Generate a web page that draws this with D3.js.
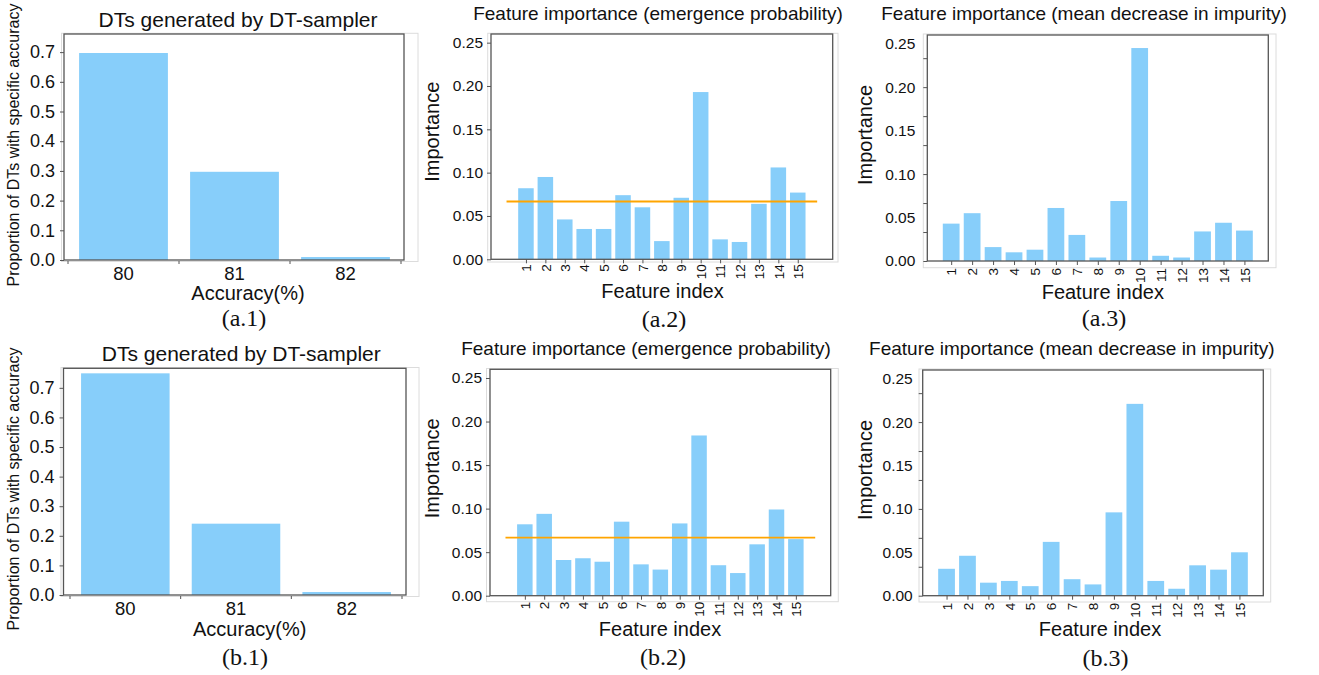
<!DOCTYPE html>
<html><head><meta charset="utf-8">
<script src="https://cdn.jsdelivr.net/npm/d3@7"></script>
<style>
body{margin:0;background:#fff;}
svg text{font-family:"Liberation Sans",Arial,Helvetica,sans-serif;fill:#111;}
</style></head><body>
<svg id="chart" width="1319" height="675"></svg>
<script>
// ---------------- data ----------------
const accCategories = ["80", "81", "82"];
const accProportionA = [0.697, 0.297, 0.010];
const accProportionB = [0.749, 0.241, 0.010];
const accTicks = [0, 0.1, 0.2, 0.3, 0.4, 0.5, 0.6, 0.7];

const featureIndex = [1, 2, 3, 4, 5, 6, 7, 8, 9, 10, 11, 12, 13, 14, 15];
const emergenceA = [0.082, 0.095, 0.046, 0.035, 0.035, 0.074, 0.060, 0.021, 0.071, 0.193, 0.023, 0.020, 0.064, 0.106, 0.077];
const impurityA  = [0.043, 0.055, 0.016, 0.010, 0.013, 0.061, 0.030, 0.004, 0.069, 0.245, 0.006, 0.004, 0.034, 0.044, 0.035];
const emergenceB = [0.082, 0.094, 0.041, 0.043, 0.039, 0.085, 0.036, 0.030, 0.083, 0.184, 0.035, 0.026, 0.059, 0.099, 0.065];
const impurityB  = [0.031, 0.046, 0.015, 0.017, 0.011, 0.062, 0.019, 0.013, 0.096, 0.221, 0.017, 0.008, 0.035, 0.030, 0.050];
const meanImportance = 0.0667;          // uniform level 1/15
const meanLineSpan = [0, 16];
const featTicks = [0, 0.05, 0.10, 0.15, 0.20, 0.25];
const impurityMarkTicks = [0, 0.05, 0.10, 0.15, 0.20, 0.25, 0.30, 0.35];

const titleAcc = "DTs generated by DT-sampler";
const titleEmergence = "Feature importance (emergence probability)";
const titleImpurity = "Feature importance (mean decrease in impurity)";
const yLabelAcc = "Proportion of DTs with specific accuracy";
const xLabelAcc = "Accuracy(%)";
const yLabelFeat = "Importance";
const xLabelFeat = "Feature index";

// ---------------- style ----------------
const BAR = "#87CEFA", SPINE = "#555", LIGHT = "#dcdcdc", ORANGE = "#FFA500";
const svg = d3.select("#chart");

function frame(g, p) {
  const [l, t, r, b] = p.light;
  g.append("rect").attr("x", l).attr("y", t).attr("width", r - l).attr("height", b - t)
    .attr("fill", "none").attr("stroke", LIGHT).attr("stroke-width", 1);
}
function spines(g, p) {
  g.append("rect").attr("x", p.left).attr("y", p.top)
    .attr("width", p.right - p.left).attr("height", p.bottom - p.top)
    .attr("fill", "none").attr("stroke", SPINE).attr("stroke-width", 1.3);
}
function text(g, s, x, y, size, opts = {}) {
  const t = g.append("text").attr("x", 0).attr("y", 0).attr("dy", "0.35em")
    .attr("text-anchor", "middle").style("font-size", size + "px").text(s)
    .attr("transform", `translate(${x},${y})` + (opts.rotate ? ` rotate(${opts.rotate})` : ""));
  if (opts.serif) t.style("font-family", '"Liberation Serif","Times New Roman",serif');
  return t;
}

function accPanel(p, values) {
  const g = svg.append("g");
  frame(g, p);
  const x = d3.scaleBand().domain(accCategories).range([p.bandL, p.bandR]).paddingInner(0.2).paddingOuter(0.1);
  const y = d3.scaleLinear().domain([0, p.yTop]).range([p.bottom, p.top]);
  const data = accCategories.map((c, i) => ({c, v: values[i]}));
  g.selectAll("rect.bar").data(data).join("rect").attr("class", "bar")
    .attr("x", d => x(d.c)).attr("width", x.bandwidth())
    .attr("y", d => y(d.v)).attr("height", d => y(0) - y(d.v)).attr("fill", BAR);
  spines(g, p);
  const ya = g.append("g").attr("transform", `translate(${p.left},0)`)
    .call(d3.axisLeft(y).tickValues(accTicks).tickFormat(d3.format(".1f")).tickSize(4).tickPadding(5));
  ya.select(".domain").remove();
  ya.selectAll(".tick line").attr("stroke", SPINE);
  ya.selectAll(".tick text").style("font-size", "18px").attr("fill", "#111");
  const bounds = accCategories.map(c => x(c) - x.step() * x.paddingOuter());
  bounds.push(p.bandR);
  g.selectAll("line.xt").data(bounds).join("line").attr("class", "xt")
    .attr("x1", d => d).attr("x2", d => d).attr("y1", p.bottom + 1).attr("y2", p.bottom + 4)
    .attr("stroke", SPINE).attr("stroke-width", 1);
  g.selectAll("text.xl").data(accCategories).join("text").attr("class", "xl")
    .attr("x", d => x(d) + x.bandwidth() / 2).attr("y", p.bottom + p.xTickDy).attr("dy", "0.35em")
    .attr("text-anchor", "middle").style("font-size", "18.5px").text(d => d);
  text(g, titleAcc, p.title[0], p.title[1], 21);
  text(g, xLabelAcc, p.xlab[0], p.xlab[1], 20);
  text(g, yLabelAcc, p.ylab[0], p.ylab[1], 16, {rotate: -90});
  text(g, p.cap, p.capPos[0], p.capPos[1], 24, {serif: true});
}

function featPanel(p, values, title, opts) {
  const g = svg.append("g");
  frame(g, p);
  const x = d3.scaleLinear().domain(p.xDom).range([p.left, p.right]);
  const y = d3.scaleLinear().domain([0, p.yTop]).range([p.bottom, p.top]);
  const bw = x(0.8) - x(0);
  const data = featureIndex.map((f, i) => ({f, v: values[i]}));
  g.selectAll("rect.bar").data(data).join("rect").attr("class", "bar")
    .attr("x", d => x(d.f) - bw / 2).attr("width", bw)
    .attr("y", d => y(d.v)).attr("height", d => y(0) - y(d.v)).attr("fill", BAR);
  if (opts.mean) {
    g.append("line").attr("x1", x(meanLineSpan[0])).attr("x2", x(meanLineSpan[1]))
      .attr("y1", y(meanImportance)).attr("y2", y(meanImportance))
      .attr("stroke", ORANGE).attr("stroke-width", 1.8);
  }
  spines(g, p);
  if (opts.marks) {
    const ym = d3.scaleLinear().domain([0, p.yTop * 1.5]).range([p.bottom, p.top]);
    const ma = g.append("g").attr("transform", `translate(${p.left},0)`)
      .call(d3.axisLeft(ym).tickValues(impurityMarkTicks).tickSize(4).tickFormat(""));
    ma.select(".domain").remove();
    ma.selectAll(".tick line").attr("stroke", SPINE);
    const la = g.append("g").attr("transform", `translate(${p.left},0)`)
      .call(d3.axisLeft(y).tickValues(featTicks).tickFormat(d3.format(".2f")).tickSize(0).tickPadding(p.labPad));
    la.select(".domain").remove();
    la.selectAll(".tick text").style("font-size", "15.5px").attr("fill", "#111");
  } else {
    const ya = g.append("g").attr("transform", `translate(${p.left},0)`)
      .call(d3.axisLeft(y).tickValues(featTicks).tickFormat(d3.format(".2f")).tickSize(4).tickPadding(4));
    ya.select(".domain").remove();
    ya.selectAll(".tick line").attr("stroke", SPINE);
    ya.selectAll(".tick text").style("font-size", "15.5px").attr("fill", "#111");
  }
  const xa = g.append("g").attr("transform", `translate(0,${p.bottom})`)
    .call(d3.axisBottom(x).tickValues(featureIndex).tickFormat(d3.format("d")).tickSize(4).tickPadding(4));
  xa.select(".domain").remove();
  xa.selectAll(".tick line").attr("stroke", SPINE);
  xa.selectAll(".tick text").style("font-size", "13.5px").attr("fill", "#111")
    .attr("text-anchor", "end").attr("transform", "rotate(-90)")
    .attr("x", -p.xTickPad).attr("y", 0).attr("dy", "0.35em");
  text(g, title, p.title[0], p.title[1], 19);
  text(g, xLabelFeat, p.xlab[0], p.xlab[1], 20);
  text(g, yLabelFeat, p.ylab[0], p.ylab[1], 20, {rotate: -90});
  text(g, p.cap, p.capPos[0], p.capPos[1], 24, {serif: true});
}

accPanel({left: 64, top: 34, right: 404, bottom: 260, bandL: 68, bandR: 401, yTop: 0.761,
  light: [61.5, 33.3, 418, 261.5], xTickDy: 13.5,
  title: [238, 19.2], xlab: [248, 293], ylab: [13, 145], cap: "(a.1)", capPos: [244, 318]}, accProportionA);
accPanel({left: 63.5, top: 368.3, right: 406, bottom: 595, bandL: 70, bandR: 402, yTop: 0.766,
  light: [61, 367.5, 419, 596.5], xTickDy: 14,
  title: [241.3, 353.7], xlab: [249.7, 629], ylab: [13, 489], cap: "(b.1)", capPos: [245, 656.7]}, accProportionB);

featPanel({left: 491, top: 34, right: 832.7, bottom: 259.3, xDom: [-0.8, 16.8], yTop: 0.26,
  light: [487.7, 33.3, 838, 262], xTickPad: 5,
  title: [658, 13.7], xlab: [662.5, 290.5], ylab: [432, 131.7], cap: "(a.2)", capPos: [664, 318.3]},
  emergenceA, titleEmergence, {mean: true});
featPanel({left: 490, top: 369.3, right: 830.7, bottom: 595.7, xDom: [-0.8, 16.8], yTop: 0.26,
  light: [486.5, 368.5, 838.3, 601.7], xTickPad: 6,
  title: [646, 348.3], xlab: [660, 629], ylab: [432, 468.3], cap: "(b.2)", capPos: [663, 656.7]},
  emergenceB, titleEmergence, {mean: true});
featPanel({left: 927.3, top: 35, right: 1268.3, bottom: 261, xDom: [-0.14, 16.14], yTop: 0.26,
  light: [923.3, 34, 1276, 267.7], xTickPad: 7, labPad: 12,
  title: [1084, 13.7], xlab: [1102.8, 292], ylab: [865, 135], cap: "(a.3)", capPos: [1104, 318]},
  impurityA, titleImpurity, {marks: true});
featPanel({left: 922.7, top: 370, right: 1263.3, bottom: 595.7, xDom: [-0.14, 16.14], yTop: 0.26,
  light: [919, 369, 1270.7, 602], xTickPad: 7, labPad: 10,
  title: [1071.8, 348.3], xlab: [1100, 629], ylab: [865, 470], cap: "(b.3)", capPos: [1105.5, 658]},
  impurityB, titleImpurity, {marks: true});
</script>
</body></html>
